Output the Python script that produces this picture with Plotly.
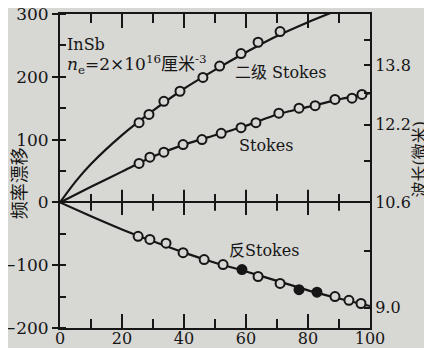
import plotly.graph_objects as go

# ---- data ----
stokes2_x = [25.5, 28.7, 33.5, 38.7, 46.1, 51.5, 58.4, 63.9, 71.0]
stokes2_y = [127, 140, 161, 177, 199, 217, 237, 255, 272]

stokes_x = [25.5, 29.0, 33.5, 39.7, 45.8, 52.0, 58.4, 63.2, 70.6, 77.1, 82.3, 88.7, 94.2, 97.4]
stokes_y = [62, 72, 80, 92, 100, 110, 119, 127, 142, 150, 154, 164, 166, 172]

anti_x = [25.2, 29.0, 34.2, 39.7, 46.5, 52.6, 58.7, 63.9, 71.0, 77.1, 82.9, 88.7, 93.2, 97.1]
anti_y = [-54, -59, -65, -80, -91, -99, -107, -118, -129, -139, -143, -150, -156, -161]
anti_filled = [0, 0, 0, 0, 0, 0, 1, 0, 0, 1, 1, 0, 0, 0]

fit2_x = [0, 5, 10, 20, 30, 40, 50, 60, 70, 80, 90]
fit2_y = [0, 33, 61, 107, 146, 181, 211, 239, 265, 287, 307]
fit1_x = [0, 10, 20, 30, 40, 50, 60, 70, 80, 90, 100]
fit1_y = [0, 25, 49, 73, 92, 107, 122, 140, 152, 164, 174]
fita_x = [0, 10, 20, 30, 40, 50, 60, 70, 80, 90, 100]
fita_y = [0, -22, -43, -62, -80, -96, -110, -125, -140, -153, -165]

x_ticks = [0, 20, 40, 60, 80, 100]
x_minor_ticks = [10, 30, 50, 70, 90]
y_ticks = [-200, -100, 0, 100, 200, 300]
wl_ticks = [14.6, 13.8, 13.0, 12.2, 11.4, 10.6, 9.8, 9.0]
wl_labels = ["", "13.8", "", "12.2", "", "10.6", "", "9.0"]
pump_wl = 10.6

BG = "#d7d7d4"
INK = "#161616"
FONT = "DejaVu Serif, Noto Sans CJK SC"

# shift (cm^-1) of each wavelength tick relative to the 10.6 um pump
wl_pos = [1e4 / pump_wl - 1e4 / w for w in wl_ticks]

fig = go.Figure()

# tick marks crossing the zero line (axis decoration)
fig.add_trace(go.Scatter(x=x_ticks[1:-1], y=[0] * 4, mode="markers", hoverinfo="skip",
                         marker=dict(symbol="line-ns-open", size=18, color=INK,
                                     line=dict(color=INK, width=2))))
fig.add_trace(go.Scatter(x=x_minor_ticks, y=[0] * 5, mode="markers", hoverinfo="skip",
                         marker=dict(symbol="line-ns-open", size=12, color=INK,
                                     line=dict(color=INK, width=2))))

line = dict(color=INK, width=2.2, shape="spline", smoothing=0.6)
fig.add_trace(go.Scatter(x=fit2_x, y=fit2_y, mode="lines", line=line, hoverinfo="skip"))
fig.add_trace(go.Scatter(x=fit1_x, y=fit1_y, mode="lines", line=line, hoverinfo="skip"))
fig.add_trace(go.Scatter(x=fita_x, y=fita_y, mode="lines", line=line, hoverinfo="skip"))

mk = dict(symbol="circle", size=9, color=BG, line=dict(color=INK, width=2))
fig.add_trace(go.Scatter(x=stokes2_x, y=stokes2_y, mode="markers", marker=mk))
fig.add_trace(go.Scatter(x=stokes_x, y=stokes_y, mode="markers", marker=mk))
fig.add_trace(go.Scatter(
    x=anti_x, y=anti_y, mode="markers",
    marker=dict(symbol="circle", size=9,
                color=[INK if f else BG for f in anti_filled],
                line=dict(color=INK, width=2))))
fig.add_trace(go.Scatter(x=[None], y=[None], yaxis="y2", showlegend=False))

axfont = dict(family=FONT, size=17, color=INK)
xfont = dict(family=FONT, size=16, color=INK)
rfont = dict(family=FONT, size=16, color=INK)
tk = dict(tickwidth=2, tickcolor=INK)
fig.update_layout(
    width=424, height=340,
    margin=dict(l=52, r=62, t=6, b=20),
    paper_bgcolor=BG, plot_bgcolor="rgba(0,0,0,0)",
    showlegend=False,
    font=dict(family=FONT, color=INK),
    xaxis=dict(range=[0, 100], tickmode="linear", tick0=0, dtick=20, showgrid=False, zeroline=False,
               automargin=False, ticklabeloverflow="allow",
               showline=True, linecolor=INK, linewidth=2, mirror="ticks",
               ticks="inside", ticklen=14, **tk,
               minor=dict(dtick=10, ticks="inside", ticklen=9, **tk),
               tickfont=xfont, ticklabelstandoff=-5),
    yaxis=dict(range=[-200, 300], tickmode="linear", tick0=0, dtick=100,
               showgrid=False, zeroline=True, zerolinecolor=INK, zerolinewidth=2,
               automargin=False, ticklabeloverflow="allow",
               showline=True, linecolor=INK, linewidth=2,
               ticks="outside", ticklen=6, **tk,
               minor=dict(dtick=50, ticks="inside", ticklen=6, **tk),
               tickfont=axfont, ticklabelstandoff=0),
    yaxis2=dict(range=[-200, 300], overlaying="y", side="right", anchor="x",
                tickmode="array", tickvals=wl_pos, ticktext=wl_labels,
                showgrid=False, zeroline=False, automargin=False, ticklabeloverflow="allow",
                showline=True, linecolor=INK, linewidth=2,
                ticks="inside", ticklen=6, **tk,
                tickfont=rfont, ticklabelstandoff=0),
)

ann = dict(showarrow=False, font=dict(family=FONT, size=16, color=INK))
fig.add_annotation(x=1.5, y=252, text="InSb", xanchor="left", **ann)
fig.add_annotation(x=1.5, y=220, text="<i>n</i><sub>e</sub>=2×10<sup>16</sup>厘米<sup>-3</sup>",
                   xanchor="left", showarrow=False, font=dict(family=FONT, size=17, color=INK))
fig.add_annotation(x=71.3, y=207, text="二级 Stokes", **ann)
fig.add_annotation(x=66.5, y=91, text="Stokes", **ann)
fig.add_annotation(x=65.8, y=-76, text="反Stokes", **ann)
fig.add_annotation(xref="paper", x=-0.13, xanchor="center", y=30, yanchor="middle",
                   text="频率漂移", textangle=-90,
                   showarrow=False, font=dict(family=FONT, size=18, color=INK))
fig.add_annotation(xref="paper", x=1.158, xanchor="center", y=70, yanchor="middle",
                   text="波长(微米)", textangle=-90,
                   showarrow=False, font=dict(family=FONT, size=16, color=INK))

fig.write_html("out.html")
